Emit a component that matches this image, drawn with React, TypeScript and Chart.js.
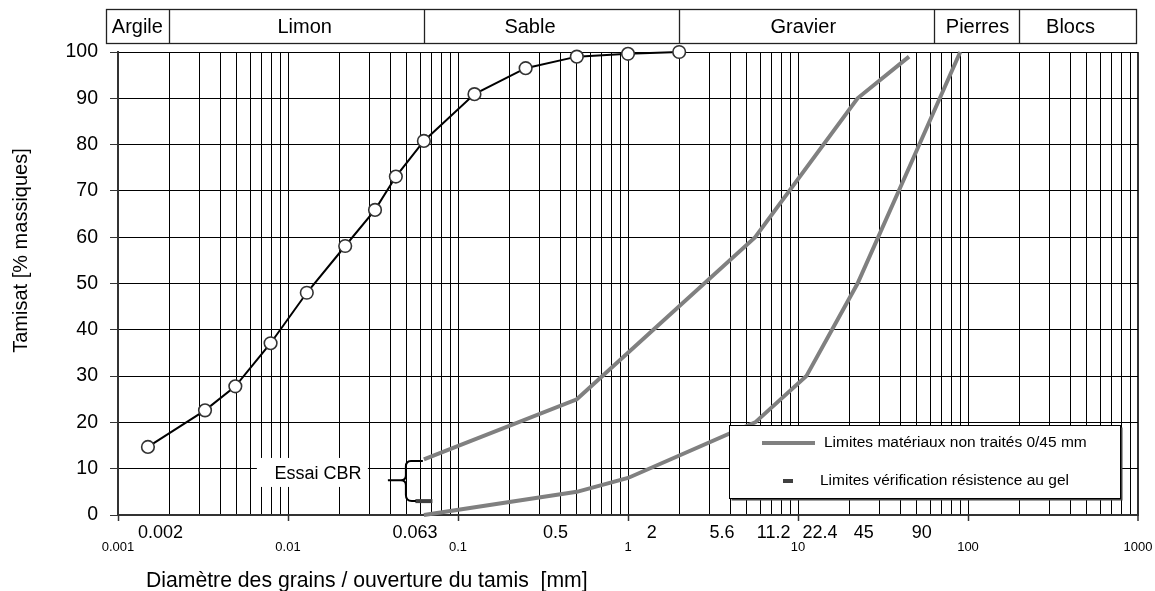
import React, { useEffect, useRef } from 'react';
import { Chart, registerables } from 'chart.js';

Chart.register(...registerables);

// ---- Data ----
const sampleDiam = [0.0015, 0.00325, 0.0049, 0.0079, 0.0129, 0.0217, 0.0325, 0.0431, 0.063, 0.125, 0.25, 0.5, 1, 2];
const samplePassing = [14.7, 22.6, 27.8, 37.1, 48.0, 58.1, 65.9, 73.1, 80.8, 90.9, 96.5, 99.0, 99.6, 100];

const upperDiam = [0.063, 0.5, 5.6, 22.4, 45];
const upperPassing = [12, 25, 60, 90, 99];

const lowerDiam = [0.063, 0.5, 1, 5.6, 11.2, 22.4, 45, 90];
const lowerPassing = [0, 5, 8, 20, 30, 50, 75, 100];

const gelDiam = [0.063];
const gelPassing = [3];

const decadeValues = [0.001, 0.01, 0.1, 1, 10, 100, 1000];
const decadeLabels = ['0.001', '0.01', '0.1', '1', '10', '100', '1000'];

const sieveLabels = ['0.002', '0.063', '0.5', '2', '5.6', '11.2', '22.4', '45', '90'];
const sieveLabelPos = [0.00178, 0.0558, 0.375, 1.378, 3.57, 7.19, 13.47, 24.4, 53.4];

const bandBounds = [0.002, 0.063, 2, 63, 200];
const bandNames = ['Argile', 'Limon', 'Sable', 'Gravier', 'Pierres', 'Blocs'];
const bandLabelPos = [0.0013, 0.01253, 0.265, 10.74, 113.7, 400.9];

const legendLabels = ['Limites matériaux non traités 0/45 mm', 'Limites vérification résistence au gel'];
const xTitle = 'Diamètre des grains / ouverture du tamis  [mm]';
const yTitle = 'Tamisat [% massiques]';
const annotationText = 'Essai CBR';

const FONT = "'Liberation Sans', Arial, Helvetica, sans-serif";

const toPts = (xs: number[], ys: number[]) => xs.map((x, i) => ({ x, y: ys[i] }));

const overlay = {
  id: 'overlay',
  afterDraw(chart: any) {
    const { ctx, chartArea: ca, scales } = chart;
    const xs = scales.x;
    const ys = scales.y;
    ctx.save();

    // Top classification band
    const bl = ca.left - 11.5;
    const br = ca.right - 1.5;
    const bt = 9.5;
    const bb = 43.5;
    ctx.strokeStyle = '#222';
    ctx.lineWidth = 1.3;
    ctx.strokeRect(bl, bt, br - bl, bb - bt);
    bandBounds.forEach((v) => {
      const x = Math.round(xs.getPixelForValue(v)) + 0.5;
      ctx.beginPath();
      ctx.moveTo(x, bt);
      ctx.lineTo(x, bb);
      ctx.stroke();
    });
    ctx.fillStyle = '#000';
    ctx.textAlign = 'center';
    ctx.textBaseline = 'middle';
    ctx.font = `20px ${FONT}`;
    bandNames.forEach((n, i) => {
      ctx.fillText(n, xs.getPixelForValue(bandLabelPos[i]), (bt + bb) / 2 + 1);
    });

    // Sieve labels under the axis
    ctx.font = `18px ${FONT}`;
    sieveLabels.forEach((s, i) => {
      ctx.fillText(s, xs.getPixelForValue(sieveLabelPos[i]), ca.bottom + 18);
    });

    // X axis title
    ctx.textAlign = 'left';
    ctx.font = `21.2px ${FONT}`;
    ctx.fillText(xTitle, ca.left + 28, ca.bottom + 66);

    // Y axis title
    ctx.save();
    ctx.translate(21, (ca.top + ca.bottom) / 2 - 33);
    ctx.rotate(-Math.PI / 2);
    ctx.textAlign = 'center';
    ctx.font = `20px ${FONT}`;
    ctx.fillText(yTitle, 0, 0);
    ctx.restore();

    // "Essai CBR" annotation
    const x063 = xs.getPixelForValue(gelDiam[0]);
    const yTop = ys.getPixelForValue(upperPassing[0]);
    const yBot = ys.getPixelForValue(gelPassing[0]);
    const yMid = (yTop + yBot) / 2;
    ctx.fillStyle = '#fff';
    ctx.fillRect(x063 - 167, yTop - 1.5, 111, 29);
    ctx.fillStyle = '#000';
    ctx.textAlign = 'center';
    ctx.font = `18px ${FONT}`;
    ctx.fillText(annotationText, x063 - 106, yTop + 14.5);

    // Brace
    const xv = x063 - 18;
    ctx.strokeStyle = '#000';
    ctx.lineWidth = 2;
    ctx.beginPath();
    ctx.moveTo(x063 - 1, yTop + 1.5);
    ctx.lineTo(xv + 5, yTop + 1.5);
    ctx.quadraticCurveTo(xv, yTop + 1.5, xv, yTop + 7);
    ctx.lineTo(xv, yMid - 5);
    ctx.quadraticCurveTo(xv, yMid, xv - 5, yMid);
    ctx.lineTo(xv - 18, yMid);
    ctx.moveTo(xv - 5, yMid);
    ctx.quadraticCurveTo(xv, yMid, xv, yMid + 5);
    ctx.lineTo(xv, yBot - 6);
    ctx.quadraticCurveTo(xv, yBot, xv + 6, yBot);
    ctx.lineTo(xv + 10, yBot);
    ctx.stroke();

    // Legend box
    const lx = 729.5, ly = 425.5, lw = 391, lh = 73;
    ctx.fillStyle = '#444';
    ctx.fillRect(lx + 2, ly + 2, lw, lh);
    ctx.fillStyle = '#fff';
    ctx.fillRect(lx, ly, lw, lh);
    ctx.strokeStyle = '#000';
    ctx.lineWidth = 1;
    ctx.strokeRect(lx, ly, lw, lh);

    ctx.strokeStyle = '#808080';
    ctx.lineWidth = 4;
    ctx.beginPath();
    ctx.moveTo(762, 443);
    ctx.lineTo(815, 443);
    ctx.stroke();
    ctx.strokeStyle = '#404040';
    ctx.beginPath();
    ctx.moveTo(783, 481);
    ctx.lineTo(793, 481);
    ctx.stroke();

    ctx.fillStyle = '#000';
    ctx.textAlign = 'left';
    ctx.textBaseline = 'middle';
    ctx.font = `15.5px ${FONT}`;
    ctx.fillText(legendLabels[0], 824, 443);
    ctx.fillText(legendLabels[1], 820, 481);

    ctx.restore();
  },
};

const isDecade = (v: number) => Math.abs(Math.log10(v) - Math.round(Math.log10(v))) < 1e-9;

export default function App() {
  const ref = useRef<HTMLCanvasElement>(null);

  useEffect(() => {
    if (!ref.current) return;
    const chart = new Chart(ref.current, {
      type: 'scatter',
      data: {
        datasets: [
          {
            label: 'Échantillon',
            data: toPts(sampleDiam, samplePassing),
            showLine: true,
            clip: false,
            borderColor: '#000',
            borderWidth: 2,
            pointRadius: 6.3,
            pointBorderWidth: 1.6,
            pointBorderColor: '#333',
            pointBackgroundColor: '#fff',
            tension: 0,
          },
          {
            label: legendLabels[1],
            data: toPts(gelDiam, gelPassing),
            showLine: false,
            clip: false,
            pointStyle: 'line',
            pointRadius: 8.5,
            pointBorderWidth: 4,
            pointBorderColor: '#404040',
            borderColor: '#404040',
          },
          {
            label: legendLabels[0],
            data: toPts(upperDiam, upperPassing),
            showLine: true,
            clip: false,
            borderColor: '#808080',
            borderWidth: 4,
            pointRadius: 0,
            tension: 0,
          },
          {
            label: legendLabels[0] + ' (inf.)',
            data: toPts(lowerDiam, lowerPassing),
            showLine: true,
            clip: false,
            borderColor: '#808080',
            borderWidth: 4,
            pointRadius: 0,
            tension: 0,
          },
        ],
      },
      options: {
        responsive: false,
        animation: false,
        devicePixelRatio: 1,
        layout: { padding: { left: 0, top: 52, right: 17, bottom: 0 } },
        plugins: {
          legend: { display: false },
          tooltip: { enabled: false },
        },
        scales: {
          x: {
            type: 'logarithmic',
            min: decadeValues[0],
            max: decadeValues[decadeValues.length - 1],
            afterBuildTicks: (scale: any) => {
              const t: { value: number }[] = [];
              for (let d = 0; d < decadeValues.length - 1; d++) {
                for (let k = 1; k <= 9; k++) t.push({ value: k * decadeValues[d] });
              }
              t.push({ value: decadeValues[decadeValues.length - 1] });
              scale.ticks = t;
            },
            afterFit: (scale: any) => {
              scale.height = 76;
              scale.paddingLeft = 0;
              scale.paddingRight = 0;
            },
            ticks: {
              autoSkip: false,
              maxRotation: 0,
              minRotation: 0,
              padding: 19,
              color: '#000',
              font: { family: FONT, size: 13 },
              callback: (v: any) => {
                const val = Number(v);
                if (!isDecade(val)) return '';
                const i = decadeValues.findIndex((d) => Math.abs(d - val) / d < 1e-6);
                return i >= 0 ? decadeLabels[i] : '';
              },
            },
            grid: {
              color: (c: any) => (c.tick && c.tick.value === 1000 ? '#333' : '#000'),
              lineWidth: (c: any) => (c.tick && c.tick.value === 1000 ? 2 : 1),
              drawTicks: true,
              tickLength: 6,
              tickColor: (c: any) => (c.tick && isDecade(c.tick.value) ? '#333' : 'rgba(0,0,0,0)'),
              tickWidth: 1.5,
            },
            border: { display: true, color: '#333', width: 2 },
          },
          y: {
            type: 'linear',
            min: 0,
            max: 100,
            afterFit: (scale: any) => {
              scale.width = 118;
              scale.paddingTop = 0;
              scale.paddingBottom = 0;
            },
            ticks: {
              stepSize: 10,
              padding: 12,
              color: '#000',
              font: { family: FONT, size: 19.5 },
            },
            grid: {
              color: '#000',
              lineWidth: 1,
              drawTicks: true,
              tickLength: 8,
              tickColor: '#333',
            },
            border: { display: true, color: '#333', width: 2 },
          },
        },
      },
      plugins: [overlay],
    } as any);
    return () => chart.destroy();
  }, []);

  return (
    <div style={{ position: 'fixed', left: 0, top: 0, width: 1155, height: 591, background: '#fff' }}>
      <canvas ref={ref} width={1155} height={591} style={{ display: 'block' }} />
    </div>
  );
}
